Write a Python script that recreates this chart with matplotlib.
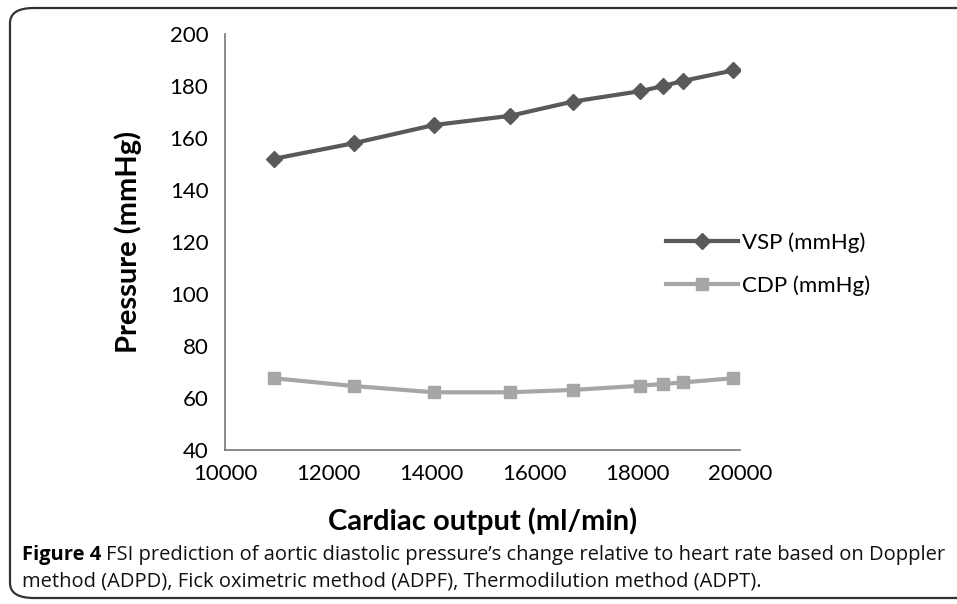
import matplotlib
matplotlib.use("Agg")
import matplotlib.pyplot as plt
from matplotlib.patches import FancyBboxPatch

# data
cardiac_output = [10950, 12500, 14060, 15530, 16750, 18060, 18510, 18900, 19870]
vsp = [152, 158, 165, 168.5, 174, 178, 180, 182, 186]
cdp = [67.6, 64.6, 62.2, 62.2, 63.1, 64.7, 65.4, 66.0, 67.6]
series_names = ['VSP (mmHg)', 'CDP (mmHg)']
x_ticks = [10000, 12000, 14000, 16000, 18000, 20000]
y_ticks = [40, 60, 80, 100, 120, 140, 160, 180, 200]

plt.rcParams['font.family'] = ['Lato', 'DejaVu Sans']

W, H = 957, 604
fig = plt.figure(figsize=(W / 100, H / 100), dpi=100)

# rounded frame around the figure
frame = FancyBboxPatch((10 / W, 6 / H), 1.2, (H - 6 - 8) / H,
                       boxstyle="round,pad=0,rounding_size=0.025",
                       transform=fig.transFigure, fill=False,
                       edgecolor='#333333', linewidth=1.6)
fig.patches.append(frame)

ax = fig.add_axes([225 / W, 1 - 450 / H, (740 - 225) / W, (450 - 34) / H])
ax.plot(cardiac_output, vsp, color='#595959', linewidth=3, marker='D',
        markersize=8, label=series_names[0])
ax.plot(cardiac_output, cdp, color='#a6a6a6', linewidth=3, marker='s',
        markersize=9, label=series_names[1])

ax.set_xlim(10000, 20000)
ax.set_ylim(40, 200)
ax.set_xticks(x_ticks)
ax.set_yticks(y_ticks)
ax.tick_params(length=0, labelsize=16)
ax.tick_params(axis='y', pad=12)
ax.tick_params(axis='x', pad=10)
for s in ['top', 'right']:
    ax.spines[s].set_visible(False)
for s in ['left', 'bottom']:
    ax.spines[s].set_color('#777777')
    ax.spines[s].set_linewidth(1.2)

ax.set_ylabel('Pressure (mmHg)', fontsize=21, fontweight='bold', labelpad=20)
ax.set_xlabel('Cardiac output (ml/min)', fontsize=21, fontweight='bold', labelpad=17)

ax.legend(loc='upper left', bbox_to_anchor=(0.84, 0.545), frameon=False,
          fontsize=16, handlelength=3.2, labelspacing=1.0, handletextpad=0.2,
          borderaxespad=0)

# caption
fs = 14.5
cap_font = ['Open Sans', 'DejaVu Sans']
t1 = fig.text(22 / W, 1 - 555 / H, 'Figure 4', fontsize=fs, fontweight='bold',
              family=cap_font, va='center')
fig.canvas.draw()
bb = t1.get_window_extent()
fig.text(bb.x1 / W + 5 / W, 1 - 555 / H,
         'FSI prediction of aortic diastolic pressure\u2019s change relative to heart rate based on Doppler',
         fontsize=fs, family=cap_font, va='center', color='#111111')
fig.text(22 / W, 1 - 581 / H,
         'method (ADPD), Fick oximetric method (ADPF), Thermodilution method (ADPT).',
         fontsize=fs, family=cap_font, va='center', color='#111111')

fig.savefig('out.png', dpi=100)
